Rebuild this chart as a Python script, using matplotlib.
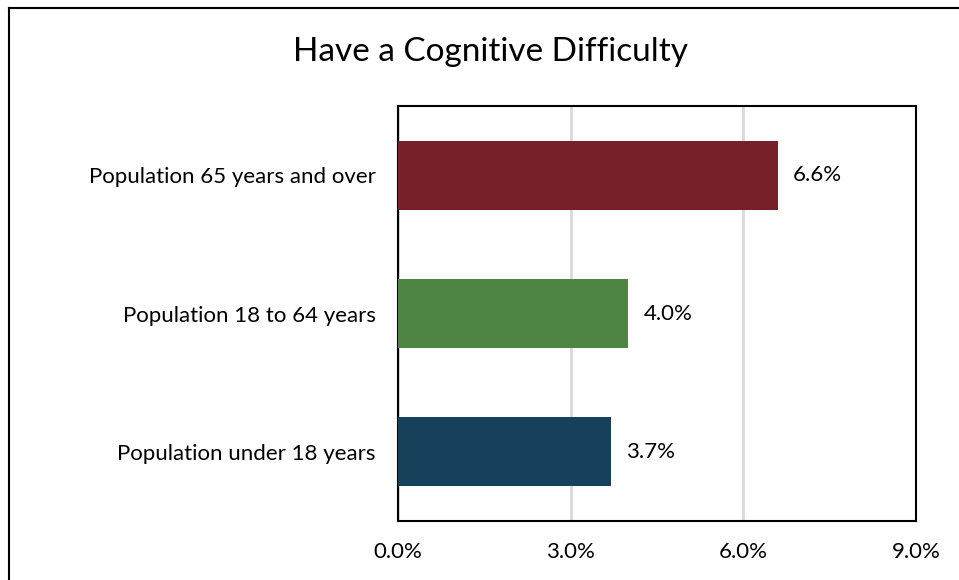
import matplotlib
matplotlib.use("Agg")
import matplotlib.pyplot as plt
from matplotlib.lines import Line2D
from matplotlib.ticker import FuncFormatter

categories = ["Population under 18 years", "Population 18 to 64 years", "Population 65 years and over"]
values = [3.7, 4.0, 6.6]
colors = ["#17415A", "#4E8542", "#76202A"]
xticks = [0, 3, 6, 9]
title = "Have a Cognitive Difficulty"

plt.rcParams['font.family'] = ['Lato', 'DejaVu Sans']

W, H = 959, 580
fig = plt.figure(figsize=(W/100, H/100), dpi=100)
ax = fig.add_axes([398/W, 1-521/H, (916-398)/W, (521-106)/H])

ypos = list(range(len(categories)))
ax.barh(ypos, values, height=0.5, color=colors, zorder=3)
for y, v in zip(ypos, values):
    ax.annotate(f"{v:.1f}%", (v, y), xytext=(11, 0), textcoords="offset points",
                va="center", ha="left", fontsize=16, color="#000000")

ax.set_xlim(0, 9)
ax.set_ylim(-0.5, 2.5)
ax.set_xticks(xticks)
ax.xaxis.set_major_formatter(FuncFormatter(lambda x, p: f"{x:.1f}%"))
ax.set_yticks(ypos)
ax.set_yticklabels(categories)
ax.tick_params(axis='both', length=0, labelsize=16, colors="#000000")
ax.tick_params(axis='x', pad=15)
ax.tick_params(axis='y', pad=16)
ax.grid(axis='x', color="#D9D9D9", linewidth=2, zorder=0)
for s in ax.spines.values():
    s.set_linewidth(1.5)
    s.set_color("#000000")

fig.text(490/W, 1-52/H, title, ha="center", va="center", fontsize=24)

fig.add_artist(Line2D([9/W, 9/W], [0, 1-8/H], color="black", linewidth=1.5, transform=fig.transFigure))
fig.add_artist(Line2D([9/W, 1], [1-8/H, 1-8/H], color="black", linewidth=1.5, transform=fig.transFigure))

fig.savefig("out.png", dpi=100)
